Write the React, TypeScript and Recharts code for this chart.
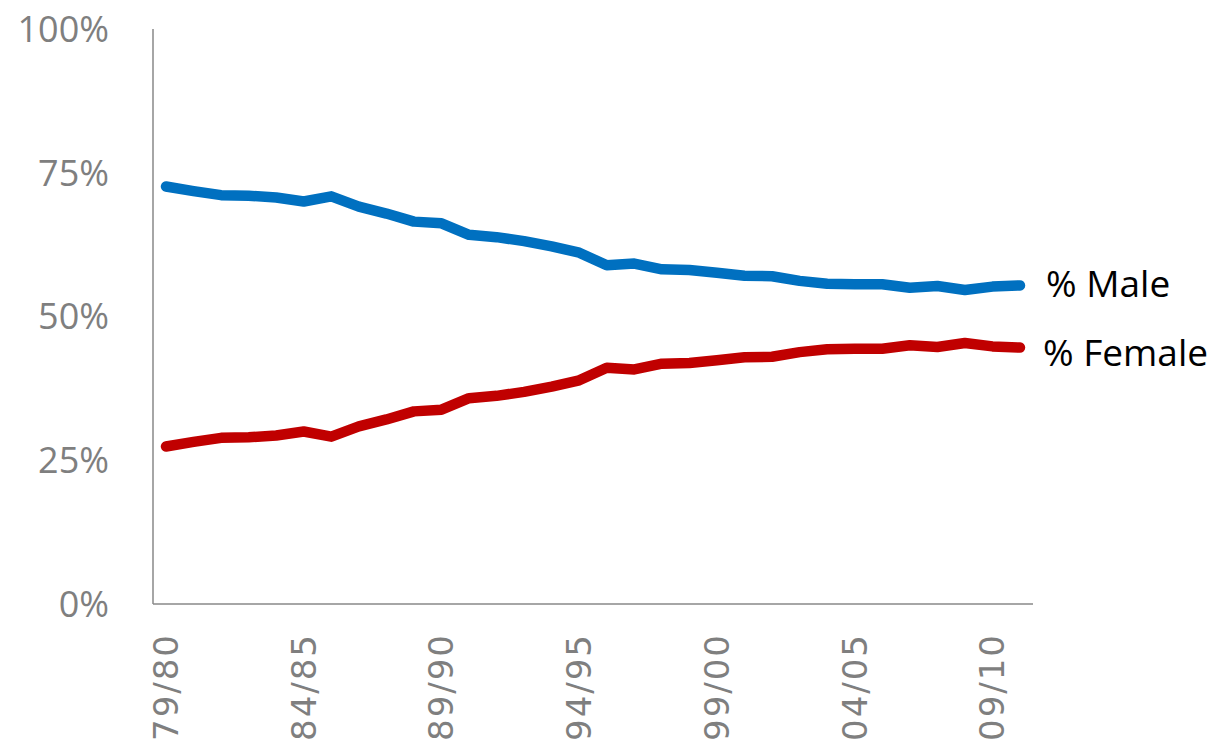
import React from "react";
import { LineChart, Line, XAxis, YAxis, LabelList } from "recharts";

const years = [
  "79/80", "80/81", "81/82", "82/83", "83/84", "84/85", "85/86", "86/87",
  "87/88", "88/89", "89/90", "90/91", "91/92", "92/93", "93/94", "94/95",
  "95/96", "96/97", "97/98", "98/99", "99/00", "00/01", "01/02", "02/03",
  "03/04", "04/05", "05/06", "06/07", "07/08", "08/09", "09/10", "10/11",
];

const maleShare = [
  72.6, 71.8, 71.1, 71.0, 70.7, 70.0, 70.9, 69.1, 67.9, 66.5, 66.2, 64.2,
  63.8, 63.1, 62.2, 61.1, 58.9, 59.2, 58.2, 58.1, 57.6, 57.1, 57.0, 56.2,
  55.7, 55.6, 55.6, 55.0, 55.3, 54.6, 55.2, 55.4,
];

const femaleShare = [
  27.4, 28.2, 28.9, 29.0, 29.3, 30.0, 29.1, 30.9, 32.1, 33.5, 33.8, 35.8,
  36.2, 36.9, 37.8, 38.9, 41.1, 40.8, 41.8, 41.9, 42.4, 42.9, 43.0, 43.8,
  44.3, 44.4, 44.4, 45.0, 44.7, 45.4, 44.8, 44.6,
];

const yTicks = [0, 25, 50, 75, 100];

const seriesNames = { male: "% Male", female: "% Female" };

const data = years.map((year, i) => ({
  year,
  male: maleShare[i],
  female: femaleShare[i],
}));

const XTick = (props: any) => {
  const { x, y, payload } = props;
  return (
    <text
      x={x}
      y={y}
      transform={`rotate(-90 ${x} ${y})`}
      textAnchor="end"
      dominantBaseline="central"
      fill="#7F7F7F"
      fontFamily="'DejaVu Sans', sans-serif"
      fontSize={34}
      letterSpacing={2}
    >
      {payload.value}
    </text>
  );
};

const makeEndLabel = (text: string, dy: number, dx: number) => (props: any) => {
  const { x, y, index } = props;
  if (index !== years.length - 1) return null;
  return (
    <text
      x={x + dx}
      y={y + dy}
      dominantBaseline="central"
      fill="#000000"
      fontFamily="'Open Sans', sans-serif"
      fontSize={37}
    >
      {text}
    </text>
  );
};

export default function App() {
  return (
    <div style={{ position: "absolute", left: 0, top: 0, width: 1216, height: 741, background: "#fff" }}>
      <LineChart
        width={1216}
        height={741}
        data={data}
        margin={{ top: 29, right: 183, left: 0, bottom: 0 }}
      >
        <XAxis
          dataKey="year"
          interval={4}
          tickLine={false}
          tickSize={0}
          tickMargin={29}
          height={137}
          padding={{ left: 13, right: 13 }}
          axisLine={{ stroke: "#888888", strokeWidth: 1.5 }}
          tick={<XTick />}
        />
        <YAxis
          domain={[0, 100]}
          ticks={yTicks}
          width={153}
          tickLine={false}
          tickSize={0}
          tickMargin={44}
          tickFormatter={(v: number) => `${v}%`}
          axisLine={{ stroke: "#888888", strokeWidth: 1.5 }}
          tick={{ fill: "#7F7F7F", fontSize: 36, fontFamily: "'Open Sans', sans-serif" }}
        />
        <Line
          dataKey="male"
          stroke="#0070C0"
          strokeWidth={10.5}
          strokeLinecap="round"
          strokeLinejoin="round"
          dot={false}
          isAnimationActive={false}
        >
          <LabelList dataKey="male" content={makeEndLabel(seriesNames.male, -3, 26)} />
        </Line>
        <Line
          dataKey="female"
          stroke="#C00000"
          strokeWidth={10.5}
          strokeLinecap="round"
          strokeLinejoin="round"
          dot={false}
          isAnimationActive={false}
        >
          <LabelList dataKey="female" content={makeEndLabel(seriesNames.female, 4, 23)} />
        </Line>
      </LineChart>
    </div>
  );
}
